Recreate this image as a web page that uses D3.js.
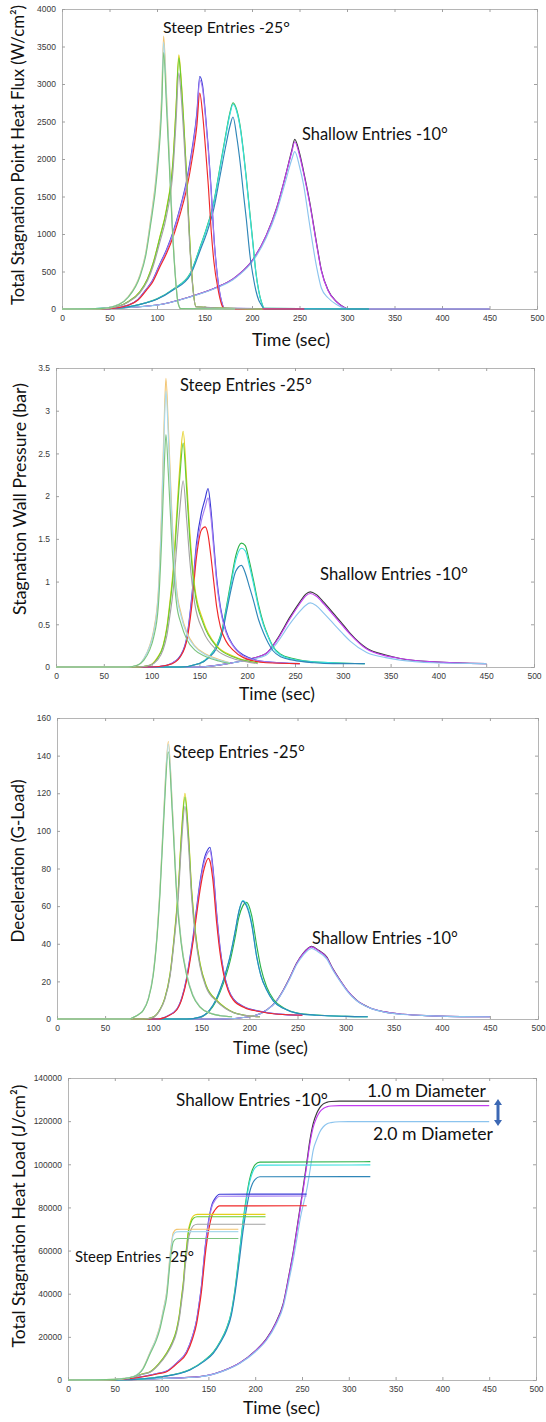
<!DOCTYPE html>
<html><head><meta charset="utf-8">
<script src="https://cdn.jsdelivr.net/npm/d3@7"></script>
<style>body{margin:0;background:#fff}svg{display:block}</style>
</head><body>
<svg id="c" width="546" height="1422"></svg>
<script>
// ---------- tick labels ----------
const timeTicks  = [0,50,100,150,200,250,300,350,400,450,500];
const fluxTicks  = [0,500,1000,1500,2000,2500,3000,3500,4000];
const presTicks  = [0,0.5,1,1.5,2,2.5,3,3.5];
const decelTicks = [0,20,40,60,80,100,120,140,160];
const loadTicks  = [0,20000,40000,60000,80000,100000,120000,140000];

// ---------- Panel 1: stagnation point heat flux (W/cm2) ----------
const fluxT1 = [0,40,60,70,82,88,93,100,105,107,110,113,116,119,122,125,182];
const flux1Top = [0,5,64,170,455,740,1165,1900,2870,3640,2870,2020,1170,510,95,5,0];
const flux1Mid = [0,5,62,165,445,725,1140,1860,2810,3560,2810,1980,1150,500,95,5,0];
const flux1Bot = [0,5,60,160,430,700,1100,1790,2700,3420,2700,1900,1100,480,90,5,0];
const fluxT2 = [0,40,60,70,82,90,96,103,110,117,120,123,125,128,131,135,138,141,211];
const flux2Top = [0,3,40,101,233,405,617,961,1336,2014,2682,3390,3137,2530,1822,789,263,30,0];
const flux2Mid = [0,3,40,100,230,400,610,950,1320,1990,2650,3350,3100,2500,1800,780,260,30,0];
const flux2Bot = [0,3,38,94,216,376,573,893,1241,1871,2491,3150,2914,2350,1692,733,244,28,0];
const fluxT3 = [0,50,70,80,89,95,103,110,117,124,131,137,142,145,148,151,154,157,160,164,168,171,255];
const flux3Top = [0,5,53,128,270,375,600,790,1030,1335,1700,2140,2620,3100,2980,2600,2150,1600,950,400,100,10,0];
const flux3Mid = [0,5,52,126,266,369,590,777,1015,1315,1670,2100,2580,3050,2930,2560,2110,1570,930,390,95,10,0];
const flux3Bot = [0,5,50,120,253,350,560,740,964,1250,1587,2000,2450,2880,2600,2150,1650,1050,620,280,60,0,0];
const fluxT4 = [0,60,82,100,117,135,146,152,160,166,172,177,180,184,188,191,194,198,201,204,207,210,213,323];
const flux4Top = [0,15,62,135,265,475,850,1070,1440,1870,2300,2630,2750,2650,2400,2100,1750,1250,880,500,250,90,10,0];
const flux4Mid = [0,15,61,133,262,470,840,1060,1425,1850,2280,2610,2730,2630,2380,2080,1730,1230,860,490,240,85,8,0];
const flux4Bot = [0,15,60,130,253,450,800,1000,1350,1750,2150,2450,2560,2290,1900,1540,1200,700,450,250,120,50,0,0];
const fluxT5 = [0,50,100,135,163,180,187,201,215,226,235,242,245,250,254,261,268,273,280,289,296,302,450];
const flux5Top = [0,10,53,164,290,400,470,660,980,1350,1764,2120,2262,2080,1853,1409,876,520,253,98,30,0,0];
const flux5Mid = [0,10,53,164,290,400,470,660,980,1345,1760,2100,2230,2050,1830,1390,860,510,248,95,28,0,0];
const flux5Bot = [0,10,52,160,283,390,458,640,950,1300,1690,2000,2098,1900,1676,1098,560,280,150,60,15,0,0];

// ---------- Panel 2: stagnation wall pressure (bar) ----------
const presT1 = [0,75,85,92,98,102,107,110.5,113,115,117.5,121,126,131,137,145,157,170,182];
const pres1Top = [0,0,0.02,0.1,0.25,0.42,0.88,1.85,2.82,3.38,2.82,1.85,0.93,0.62,0.4,0.25,0.15,0.09,0.05];
const pres1Mid = [0,0,0.02,0.1,0.24,0.4,0.84,1.77,2.7,3.23,2.7,1.77,0.89,0.59,0.38,0.24,0.14,0.08,0.05];
const pres1Bot = [0,0,0.02,0.08,0.2,0.34,0.71,1.49,2.27,2.72,2.27,1.49,0.75,0.5,0.32,0.2,0.12,0.07,0.04];
const presT2 = [0,85,98,106,112,116,119,122.7,126,129.7,133,136.7,140,145,154,168,185,200,211];
const pres2Top = [0,0,0.02,0.11,0.25,0.47,0.75,1.16,1.74,2.37,2.76,2.18,1.57,0.95,0.54,0.25,0.13,0.07,0.05];
const pres2Mid = [0,0,0.02,0.1,0.24,0.45,0.71,1.1,1.65,2.25,2.62,2.07,1.49,0.9,0.51,0.24,0.12,0.07,0.05];
const pres2Bot = [0,0,0.02,0.08,0.2,0.37,0.59,0.91,1.37,1.87,2.18,1.72,1.24,0.75,0.42,0.2,0.1,0.06,0.04];
const presT3 = [0,100,116,125,130,137,142,147,152,156,159,162,165,168,172,178,185,196,220,255];
const pres3Top = [0,0,0.02,0.07,0.13,0.36,0.82,1.45,1.8,1.97,2.09,1.85,1.45,1.05,0.7,0.42,0.26,0.14,0.06,0.04];
const pres3Mid = [0,0,0.02,0.07,0.12,0.34,0.78,1.38,1.71,1.87,1.98,1.76,1.38,1.0,0.67,0.4,0.25,0.13,0.06,0.04];
const pres3Bot = [0,0,0.02,0.06,0.12,0.32,0.71,1.29,1.6,1.64,1.55,1.3,1.0,0.71,0.47,0.3,0.2,0.11,0.05,0.04];
const presT4 = [0,130,150,160,168,174,178.5,183,188,194,198,202,206.5,212,217,222,227,235,248,270,290,323];
const pres4Top = [0,0,0.04,0.12,0.25,0.45,0.72,1.0,1.3,1.45,1.42,1.25,1.02,0.72,0.51,0.36,0.24,0.15,0.1,0.06,0.05,0.04];
const pres4Mid = [0,0,0.04,0.12,0.24,0.43,0.69,0.96,1.25,1.39,1.36,1.2,0.98,0.69,0.49,0.35,0.23,0.14,0.09,0.06,0.05,0.04];
const pres4Bot = [0,0,0.04,0.11,0.22,0.4,0.65,0.9,1.12,1.19,1.1,0.95,0.78,0.55,0.4,0.28,0.19,0.12,0.08,0.05,0.04,0.04];
const presT5 = [0,150,185,205,220,231,245,255,261,266,272,280,290,300,308,325,345,360,395,450];
const pres5Top = [0,0,0.05,0.1,0.16,0.32,0.59,0.76,0.85,0.88,0.85,0.76,0.63,0.5,0.39,0.22,0.14,0.1,0.06,0.04];
const pres5Mid = [0,0,0.05,0.1,0.16,0.31,0.57,0.74,0.83,0.86,0.83,0.74,0.61,0.48,0.38,0.21,0.13,0.1,0.06,0.04];
const pres5Bot = [0,0,0.05,0.09,0.14,0.28,0.51,0.65,0.72,0.75,0.72,0.63,0.51,0.39,0.3,0.17,0.11,0.08,0.05,0.04];

// ---------- Panel 3: deceleration (G) ----------
const decT1 = [0,75,79,85,89.7,95,100,104,107,111,115.7,120,124.4,129,134.8,141,148.7,160,170,182];
const dec1Top = [0,0,0.8,2.5,4.8,11,24,45,68.5,110,147.5,112,68.5,42,24,13,6.5,3,1.8,1.2];
const dec1Mid = [0,0,0.8,2.5,4.8,11,24,44.5,68,109,146,111,68,41.5,24,13,6.5,3,1.8,1.2];
const dec1Bot = [0,0,0.8,2.4,4.6,10.6,23,43.5,66,106,142,108,66,40.5,23,12.5,6.3,2.9,1.7,1.2];
const decT2 = [0,90,100,107,112,117.5,122,126,129.5,133,136.5,140,144,148.7,155,166,175,183.7,195,211];
const dec2Top = [0,0,1,5,11,24,45,68.5,100,120,100,68.5,46,29.6,18,10,6,3.5,2,1.2];
const dec2Mid = [0,0,1,5,10.8,23.6,44,67.3,98.3,118,98.3,67.3,45.2,29.1,17.7,9.8,5.9,3.4,2,1.2];
const dec2Bot = [0,0,0.9,4.7,10.3,22.6,42.3,64.4,94,113,94,64.4,43.2,27.8,16.9,9.4,5.6,3.3,1.9,1.2];
const decT3 = [0,105,115,124.4,130,134.8,138,141.7,145,148.7,153,157.3,159,162,166,169.5,173,178,183.3,195,210,230,255];
const dec3Top = [0,0,1.6,5.1,11.7,22,32,44.7,58.5,73,85,90.5,91.3,81,56,38,26,16,10.7,6.4,4.2,2.6,2];
const dec3Mid = [0,0,1.6,5,11.4,21.5,31.2,43.6,57.2,71.4,83.2,88.8,89.5,79.5,54.8,37.2,25.5,15.7,10.5,6.3,4.1,2.6,2];
const dec3Bot = [0,0,1.5,4.8,11,20.7,30,42,55,68.5,80,85.4,84,74,50.9,35,24.3,15,10,6,4,2.5,2];
const decT4 = [0,135,148.6,159,165,169.4,175,179.8,185,189,193,197,202.4,207.6,212,218,225,235.3,250,270,300,323];
const dec4Top = [0,0,0.9,4.6,9.2,14.2,22,30.5,43,54,60,62,55,39,27,17,10.5,6,3.2,2.1,1.4,1.2];
const dec4Mid = [0,0,1,5,10,15.4,24,33,46,57,63,61,51,33,23,15.4,9.5,5.7,3,2,1.4,1.2];
const dec4Bot = [0,0,1,5,10,15.4,24,33,46,57,62.5,60,50,33,23,15.4,9.5,5.7,3,2,1.4,1.2];
const decT5 = [0,170,200,218,228,235.3,242,249,256,264.7,272,280.3,287,294.2,302,311.5,325,339.2,360,390,420,450];
const dec5Top = [0,0,1.2,4.8,9.5,15.4,22,29.6,35,38.6,36.5,33,26.5,20.7,15,10,6,3.9,2.5,1.7,1.3,1.2];
const dec5Mid = [0,0,1.2,4.8,9.4,15.3,21.8,29.4,34.7,38.3,36.2,32.7,26.3,20.5,14.9,9.9,6,3.9,2.5,1.7,1.3,1.2];
const dec5Bot = [0,0,1.2,4.7,9.2,15,21.4,28.8,34,37.5,35.5,32,25.8,20.1,14.6,9.7,5.9,3.8,2.4,1.7,1.3,1.2];

// ---------- Panel 4: total stagnation heat load (J/cm2) ----------
const loadT1 = [0,50,60,70,80,88,94,98,102,105.5,109,112.5,116,120,182];
const load1Top = [0,320,745,1630,5330,13200,19200,24700,33000,41100,57700,68300,69800,69900,69900];
const load1Mid = [0,315,735,1600,5250,13000,18900,24300,32500,40500,56700,67200,68700,68800,68800];
const load1Bot = [0,300,700,1530,5000,12400,18000,23200,31000,38600,54100,64100,65500,65600,65600];
const loadT2 = [0,50,70,80,88,97,105.4,111,116,119,121.5,123.5,125,127,128.5,131,134,138,211];
const load2Top = [0,203,1520,2840,3920,7610,12560,17250,23520,30430,39160,46670,54880,62900,68990,73550,76090,76800,76800];
const load2Mid = [0,200,1500,2800,3860,7500,12380,17000,23180,30000,38600,46000,54100,62000,68000,72500,75000,75700,75700];
const load2Bot = [0,191,1430,2670,3680,7150,11810,16220,22110,28620,36820,43880,51610,59150,64870,69170,71550,72200,72200];
const loadT3 = [0,50,80,95,105.4,117,126.8,133,137.5,140,142.8,144.5,146.4,149,151.7,154,157,162,255];
const load3Top = [0,215,1600,3000,4120,8300,13200,20300,28000,35200,44500,52300,61000,70400,77500,81600,84100,86100,86200];
const load3Mid = [0,211,1580,2960,4080,8240,13070,20060,27760,34850,44040,51740,60400,69700,76670,80780,83210,85200,85300];
const load3Bot = [0,200,1500,2800,3860,7800,12380,19000,26290,33000,41700,49000,57200,66000,72600,76500,78800,80700,80800];
const loadT4 = [0,60,100,130.3,145,155.2,163,169.6,174.5,178.4,181.5,183.8,187.3,190.9,194,197,200,205,323];
const load4Top = [0,155,1560,4830,8850,12900,18200,24200,31500,42000,53000,61500,74500,85500,93000,97500,99800,101000,101200];
const load4Mid = [0,154,1540,4770,8740,12730,17970,23900,31100,41400,52300,60700,73500,84300,91700,96100,98400,99600,99700];
const load4Bot = [0,150,1500,4640,8500,12380,17500,23180,30000,40000,50000,58000,70000,80000,87000,91000,93000,94200,94300];
const loadT5 = [0,60,100,141,165,183.8,200,212.3,222,230,236,240.7,244.3,248,252,255,258.5,262,265.7,269,272.8,276.4,281,290,300,450];
const load5Top = [0,150,720,1580,4150,8000,13500,19300,26600,35500,48500,59500,69500,80000,91500,100500,111300,119000,123640,126300,128000,128700,129100,129300,129300,129300];
const load5Mid = [0,150,715,1570,4120,7950,13400,19100,26300,35100,48000,58800,68700,79000,90300,99200,109700,117200,121700,124300,125900,126600,127000,127200,127200,127200];
const load5Bot = [0,150,700,1530,4000,7740,13000,18540,25500,33980,46000,56000,65000,74500,82500,88080,97000,106600,111500,115000,117400,118700,119300,119700,119750,119750];

// ---------- styles ----------
const groupColors = [
  ['#f2c46f','#a9d9ec','#7cc47f'],
  ['#e3cf1c','#66cc33','#a3a3a3'],
  ['#3a3ad6','#a57cf2','#f02828'],
  ['#2db34a','#38dede','#2f86b8'],
  ['#3a3a3a','#c23cf0','#8cc4ee']
];
const LABEL_FONT = "Lato, 'Open Sans', sans-serif";
const TICK_FONT = "'Liberation Sans', Arial, sans-serif";

const panels = [
  { l:62, r:537, t:9, b:309, ymax:4000, ticks:fluxTicks,
    groups:[[fluxT1,[flux1Top,flux1Mid,flux1Bot]],[fluxT2,[flux2Top,flux2Mid,flux2Bot]],[fluxT3,[flux3Top,flux3Mid,flux3Bot]],[fluxT4,[flux4Top,flux4Mid,flux4Bot]],[fluxT5,[flux5Top,flux5Mid,flux5Bot]]],
    ylab:{text:'Total Stagnation Point Heat Flux (W/cm²)', cx:18, cy:155, len:300},
    xlab:{x:252, y:346, w:78},
    notes:[{text:'Steep Entries -25°',x:163,y:33,w:127},{text:'Shallow Entries -10°',x:302,y:140,w:146}] },
  { l:56, r:534, t:368, b:667, ymax:3.5, ticks:presTicks,
    groups:[[presT1,[pres1Top,pres1Mid,pres1Bot]],[presT2,[pres2Top,pres2Mid,pres2Bot]],[presT3,[pres3Top,pres3Mid,pres3Bot]],[presT4,[pres4Top,pres4Mid,pres4Bot]],[presT5,[pres5Top,pres5Mid,pres5Bot]]],
    ylab:{text:'Stagnation Wall Pressure  (bar)', cx:20, cy:499, len:232},
    xlab:{x:239, y:700, w:76},
    notes:[{text:'Steep Entries -25°',x:180,y:391,w:132},{text:'Shallow Entries -10°',x:320,y:580,w:148}] },
  { l:57, r:538, t:718, b:1019, ymax:160, ticks:decelTicks,
    groups:[[decT1,[dec1Top,dec1Mid,dec1Bot]],[decT2,[dec2Top,dec2Mid,dec2Bot]],[decT3,[dec3Top,dec3Mid,dec3Bot]],[decT4,[dec4Top,dec4Mid,dec4Bot]],[decT5,[dec5Top,dec5Mid,dec5Bot]]],
    ylab:{text:'Deceleration (G-Load)', cx:18, cy:861, len:163},
    xlab:{x:233, y:1054, w:75},
    notes:[{text:'Steep Entries -25°',x:173,y:758,w:132},{text:'Shallow Entries -10°',x:312,y:944,w:146}] },
  { l:68, r:536, t:1078, b:1380, ymax:140000, ticks:loadTicks,
    groups:[[loadT1,[load1Top,load1Mid,load1Bot]],[loadT2,[load2Top,load2Mid,load2Bot]],[loadT3,[load3Top,load3Mid,load3Bot]],[loadT4,[load4Top,load4Mid,load4Bot]],[loadT5,[load5Top,load5Mid,load5Bot]]],
    ylab:{text:'Total Stagnation Heat Load (J/cm²)', cx:19, cy:1216, len:263},
    xlab:{x:243, y:1414, w:77},
    notes:[{text:'Shallow Entries -10°',x:176,y:1106,w:152},{text:'Steep Entries -25°',x:75,y:1262,w:119},
           {text:'1.0 m Diameter',x:367,y:1097,w:119},{text:'2.0 m Diameter',x:373,y:1140,w:120}] }
];

const svg = d3.select('#c');
svg.append('rect').attr('width',546).attr('height',1422).attr('fill','#fff');

function fitText(sel, w){
  sel.attr('font-size',16);
  const m = sel.node().getComputedTextLength();
  sel.attr('font-size', 16*w/m);
}

const fmt = d3.format('~g');

panels.forEach((p,i)=>{
  const x = d3.scaleLinear().domain([0,500]).range([p.l,p.r]);
  const y = d3.scaleLinear().domain([0,p.ymax]).range([p.b,p.t]);
  const g = svg.append('g');

  // frame
  g.append('rect').attr('x',p.l+0.5).attr('y',p.t+0.5).attr('width',p.r-p.l).attr('height',p.b-p.t)
    .attr('fill','none').attr('stroke','#b5b5b5').attr('stroke-width',1);

  const styleAxis = a => {
    a.select('.domain').remove();
    a.selectAll('.tick line').attr('stroke','#a0a0a0');
    a.selectAll('.tick text').attr('fill','#3a3a3a');
    a.attr('font-family',TICK_FONT).attr('font-size',8.5);
  };
  g.append('g').attr('transform',`translate(0,${p.b})`)
    .call(d3.axisBottom(x).tickValues(timeTicks).tickSizeInner(-3).tickSizeOuter(0).tickPadding(6).tickFormat(fmt)).call(styleAxis);
  g.append('g').attr('transform',`translate(0,${p.t})`)
    .call(d3.axisTop(x).tickValues(timeTicks).tickSizeInner(-3).tickSizeOuter(0).tickFormat('')).call(styleAxis);
  g.append('g').attr('transform',`translate(${p.l},0)`)
    .call(d3.axisLeft(y).tickValues(p.ticks).tickSizeInner(-3).tickSizeOuter(0).tickPadding(6).tickFormat(fmt)).call(styleAxis);
  g.append('g').attr('transform',`translate(${p.r},0)`)
    .call(d3.axisRight(y).tickValues(p.ticks).tickSizeInner(-3).tickSizeOuter(0).tickFormat('')).call(styleAxis);

  // lines
  const cid = 'clip'+i;
  svg.append('clipPath').attr('id',cid).append('rect')
    .attr('x',p.l).attr('y',p.t-2).attr('width',p.r-p.l+1).attr('height',p.b-p.t+3);
  const line = d3.line().x(d=>x(d[0])).y(d=>y(d[1])).curve(d3.curveMonotoneX);
  const lg = g.append('g').attr('clip-path',`url(#${cid})`);
  for (let gi = p.groups.length-1; gi >= 0; gi--) {
    const [t, series] = p.groups[gi];
    series.forEach((vals, si) => {
      lg.append('path').attr('d', line(d3.zip(t, vals)))
        .attr('fill','none').attr('stroke', groupColors[gi][si]).attr('stroke-width',1.15)
        .attr('stroke-linejoin','round');
    });
  }

  // x label
  const xl = svg.append('text').attr('x',p.xlab.x).attr('y',p.xlab.y)
    .attr('font-family',LABEL_FONT).attr('fill','#111').text('Time (sec)');
  fitText(xl, p.xlab.w);

  // y label
  const yl = svg.append('text')
    .attr('transform',`translate(${p.ylab.cx},${p.ylab.cy}) rotate(-90)`)
    .attr('text-anchor','middle').attr('dy','0.35em')
    .attr('font-family',LABEL_FONT).attr('fill','#111').text(p.ylab.text);
  fitText(yl, p.ylab.len);

  // annotations
  p.notes.forEach(n=>{
    const tx = svg.append('text').attr('x',n.x).attr('y',n.y)
      .attr('font-family',LABEL_FONT).attr('fill','#111').text(n.text);
    fitText(tx, n.w);
  });
});

// double-headed arrow between diameters (panel 4)
const arr = svg.append('g').attr('fill','#3c68b4').attr('stroke','#3c68b4');
arr.append('line').attr('x1',498).attr('x2',498).attr('y1',1104).attr('y2',1121).attr('stroke-width',3);
arr.append('path').attr('stroke','none').attr('d','M494,1105 L502,1105 L498,1099 Z');
arr.append('path').attr('stroke','none').attr('d','M494,1120 L502,1120 L498,1126 Z');
</script>
</body></html>
